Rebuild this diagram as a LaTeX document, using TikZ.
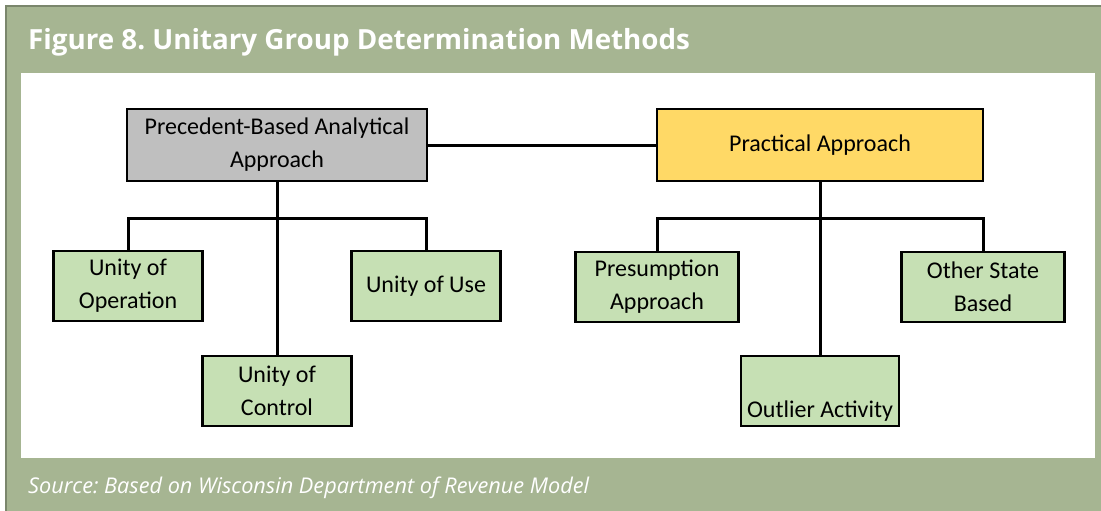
\documentclass[tikz,border=0pt]{standalone}
\usepackage{fontspec}
\setmainfont{Carlito}
\newfontfamily\titlefont{Open Sans}
\usetikzlibrary{positioning}
\frenchspacing

\definecolor{panelgreen}{RGB}{166,181,146}
\definecolor{edgegreen}{RGB}{122,134,108}
\definecolor{rootgray}{RGB}{191,191,191}
\definecolor{rootyellow}{RGB}{255,217,102}
\definecolor{leafgreen}{RGB}{198,224,180}

\tikzset{
  box/.style={draw=black, line width=2.2pt, inner sep=0pt, align=center,
    font=\fontsize{24}{33}\selectfont},
  root/.style={box, minimum height=72pt},
  leaf/.style={box, fill=leafgreen, minimum height=70pt},
  link/.style={line width=3pt}
}

\begin{document}
\begin{tikzpicture}[x=1pt, y=-1pt]
    \useasboundingbox (0,0) rectangle (1101,511);
    % frame
    \fill[white] (0,0) rectangle (1101,511);
    \fill[panelgreen] (6,6) rectangle (1101,511);
    \draw[edgegreen, line width=1.5pt] (6,511) -- (6,6) -- (1101,6);
    \fill[white] (21,73) rectangle (1095,458);
    \node[anchor=base west, text=white, inner sep=0pt,
      font=\titlefont\bfseries\fontsize{27.75}{30}\selectfont] (title) at (28,50)
      {Figure 8. Unitary Group Determination Methods};
    \node[anchor=base west, text=white, inner sep=0pt,
      font=\titlefont\itshape\fontsize{21.7}{24}\selectfont] (source) at (28,493)
      {Source: Based on Wisconsin Department of Revenue Model};

    % top level
    \node[root, fill=rootgray, minimum width=300pt] (prec) at (277,145)
      {Precedent-Based Analytical\\Approach};
    \node[root, fill=rootyellow, minimum width=326pt] (prac) at (820,145)
      {Practical Approach};

    % left branch
    \node[leaf, minimum width=149pt] (opn) [below of=prec, node distance=141pt, xshift=-149pt] {Unity of\\Operation};
    \node[leaf, minimum width=149pt] (ctrl) [below of=prec, node distance=246pt] {Unity of\\Control};
    \node[leaf, minimum width=149pt] (use) [below of=prec, node distance=141pt, xshift=149pt] {Unity of Use};

    % right branch
    \node[leaf, minimum width=163pt] (pres) [below of=prac, node distance=142pt, xshift=-163pt] {Presumption\\Approach};
    \node[leaf, minimum width=158pt] (outl) [below of=prac, node distance=246pt] {\mbox{}\\[24pt]Outlier Activity};
    \node[leaf, minimum width=163pt] (other) [below of=prac, node distance=142pt, xshift=163pt] {Other State\\Based};

    \coordinate (lbar) at (277,218);
    \coordinate (rbar) at (820,218);

    \draw[link] (prec.east) -- (prac.west);
    \draw[link] (prec.south) -- (ctrl.north);
    \draw[link] (opn.north) |- (lbar) -| (use.north);
    \draw[link] (prac.south) -- (outl.north);
    \draw[link] (pres.north) |- (rbar) -| (other.north);
\end{tikzpicture}
\end{document}
